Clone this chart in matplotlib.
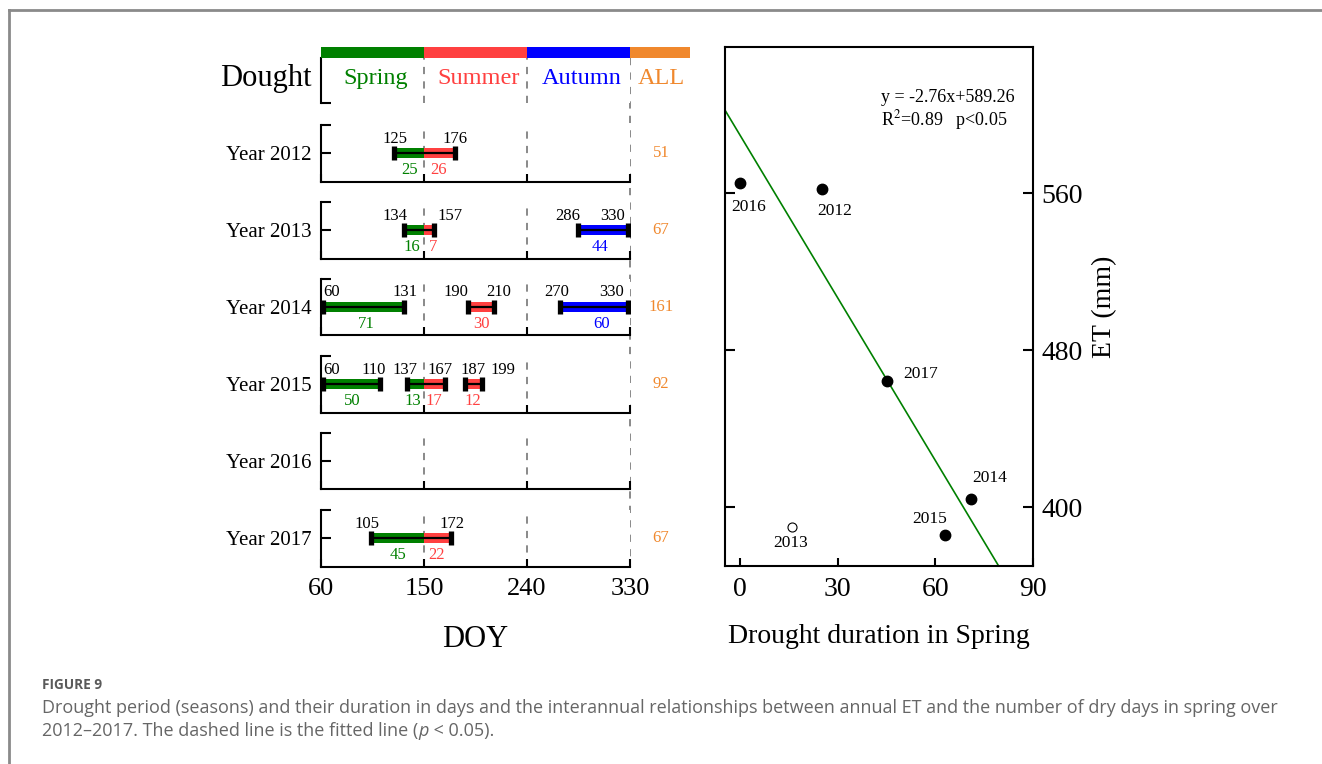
import matplotlib
matplotlib.use("Agg")
import matplotlib.pyplot as plt
from matplotlib.lines import Line2D
import numpy as np

plt.rcParams['font.family'] = ['Liberation Serif', 'DejaVu Serif']
plt.rcParams['mathtext.fontset'] = 'stix'

# ---------------- data ----------------
years = [2012, 2013, 2014, 2015, 2016, 2017]
seasons = ["Spring", "Summer", "Autumn", "ALL"]
season_bounds = [60, 150, 240, 330]
x_ticks_doy = [60, 150, 240, 330]

# continuous drought runs (start DOY, end DOY) per year
run_starts = {2012: [125], 2013: [134, 286], 2014: [60, 190, 270],
              2015: [60, 137, 187], 2016: [], 2017: [105]}
run_ends = {2012: [176], 2013: [157, 330], 2014: [131, 210, 330],
            2015: [110, 167, 199], 2016: [], 2017: [172]}

# seasonal segments: season, start, end, days label
seg_season = {2012: ["Spring", "Summer"], 2013: ["Spring", "Summer", "Autumn"],
              2014: ["Spring", "Summer", "Autumn"],
              2015: ["Spring", "Spring", "Summer", "Summer"], 2016: [],
              2017: ["Spring", "Summer"]}
seg_start = {2012: [125, 150], 2013: [134, 150, 286], 2014: [60, 190, 270],
             2015: [60, 137, 150, 187], 2016: [], 2017: [105, 150]}
seg_end = {2012: [150, 176], 2013: [150, 157, 330], 2014: [131, 210, 330],
           2015: [110, 150, 167, 199], 2016: [], 2017: [150, 172]}
seg_days = {2012: [25, 26], 2013: [16, 7, 44], 2014: [71, 30, 60],
            2015: [50, 13, 17, 12], 2016: [], 2017: [45, 22]}
all_days = [51, 67, 161, 92, None, 67]

# right panel: spring drought days vs annual ET
sc_years = ["2016", "2012", "2017", "2014", "2015", "2013"]
sc_spring_days = [0, 25, 45, 71, 63, 16]
sc_et = [565, 562, 464, 404, 386, 390]
sc_filled = [True, True, True, True, True, False]
fit_slope = -2.76
fit_intercept = 589.26

# ---------------- styles ----------------
colors = {"Spring": "#008000", "Summer": "#FF4040", "Autumn": "#0000FF", "ALL": "#F0882D"}
# label nudges in days (purely positional styling)
start_nudge = {2012: [0], 2013: [-9, -10], 2014: [9, -12, -4], 2015: [9, -4, 6], 2017: [-5]}
end_nudge = {2012: [1], 2013: [16, -15], 2014: [2, 5, -16], 2015: [-4, -3, 20], 2017: [2.5]}
days_nudge = {2012: [0, 0], 2013: [-3, 4, -4], 2014: [4, 0, 5], 2015: [2, -3, 0, 0], 2017: [0, 0]}
label_offsets = {"2016": (8, -24), "2012": (13, -22), "2017": (34, 7),
                 "2014": (18, 21), "2015": (-16, 16), "2013": (-2, -16)}

W, H = 1322, 764
fig = plt.figure(figsize=(W / 100, H / 100), dpi=100)


def px_axes(left, top, right, bottom):
    return fig.add_axes([left / W, 1 - bottom / H, (right - left) / W, (bottom - top) / H])


XL, XR = 321, 630
SPW = 1.5
DASH = (0, (4, 4))
GREY = '#808080'

# header panel
axh = px_axes(XL, 58, XR, 103)
axh.set_xlim(60, 330)
axh.set_ylim(0, 1)
for s in ["top", "right", "bottom"]:
    axh.spines[s].set_visible(False)
axh.spines["left"].set_linewidth(SPW)
axh.set_xticks([])
axh.set_yticks([0])
axh.set_yticklabels([])
axh.tick_params(axis='y', direction='in', length=7, width=SPW)
for xb in season_bounds[1:3]:
    axh.axvline(xb, color=GREY, ls=DASH, lw=1.3)
axh.text(-0.03, 0.55, "Dought", transform=axh.transAxes, ha='right', va='center', fontsize=22)
# coloured header band
axb = px_axes(XL, 47, 690, 58)
axb.set_xlim(60, 330 + (690 - XR) * 270 / (XR - XL))
axb.set_ylim(0, 1)
axb.axis('off')
band_edges = season_bounds + [axb.get_xlim()[1]]
for i, s in enumerate(seasons):
    axb.axvspan(band_edges[i], band_edges[i + 1], color=colors[s], lw=0)
for i, s in enumerate(seasons[:3]):
    axh.text((season_bounds[i] + season_bounds[i + 1]) / 2 + 3, 0.55, s, color=colors[s],
             ha='center', va='center', fontsize=17.5)
PXD = (XR - XL) / 270.0
axh.text(330 + 31 / PXD, 0.55, "ALL", color=colors["ALL"], ha='center', va='center',
         fontsize=17.5, clip_on=False)

tops = [125, 202, 278.5, 356, 433, 510]
PH = 56.5
for k, yr in enumerate(years):
    ax = px_axes(XL, tops[k], XR, tops[k] + PH)
    ax.set_xlim(60, 330)
    ax.set_ylim(0, 1)
    ax.spines["top"].set_visible(False)
    ax.spines["right"].set_visible(False)
    ax.spines["left"].set_linewidth(SPW)
    ax.spines["bottom"].set_linewidth(SPW)
    ax.set_yticks([0.5, 1.0])
    ax.set_yticklabels([f"Year {yr}", ""], fontsize=15)
    ax.tick_params(axis='y', direction='in', length=7, width=SPW, pad=7)
    ax.set_xticks(x_ticks_doy)
    ax.tick_params(axis='x', direction='in', length=6, width=SPW, pad=8)
    if k == len(years) - 1:
        ax.set_xticklabels([str(v) for v in x_ticks_doy], fontsize=19)
        ax.set_xlabel("DOY", fontsize=22, labelpad=18)
    else:
        ax.set_xticklabels([])
    for xb in season_bounds[1:3]:
        ax.axvline(xb, color=GREY, ls=DASH, lw=1.3, zorder=1)
    # segments
    for s, a, b, d, nd in zip(seg_season[yr], seg_start[yr], seg_end[yr], seg_days[yr],
                              days_nudge.get(yr, [])):
        ax.barh(0.5, b - a, left=a, height=0.17, color=colors[s], lw=0, zorder=2)
        ax.text((a + b) / 2 + nd, 0.2, str(d), color=colors[s], ha='center', va='center',
                fontsize=12, zorder=5)
    # runs
    for a, b, na, nb in zip(run_starts[yr], run_ends[yr], start_nudge.get(yr, []),
                            end_nudge.get(yr, [])):
        ax.plot([a, b], [0.5, 0.5], color='k', lw=1.6, zorder=3, solid_capstyle='butt')
        cap_x = [max(a - 1.5, 61.8), min(b + 1.5, 328.2)]
        ax.plot(cap_x, [0.5, 0.5], ls='none', marker='|', ms=9.5, mew=3.8,
                color='k', zorder=4)
        ax.text(a + na, 0.76, str(a), ha='center', va='center', fontsize=12, zorder=5)
        ax.text(b + nb, 0.76, str(b), ha='center', va='center', fontsize=12, zorder=5)
    if all_days[k] is not None:
        ax.text(330 + 31 / PXD, 0.5, str(all_days[k]), color=colors["ALL"], ha='center',
                va='center', fontsize=12, clip_on=False)

# long dashed line at 330 spanning all panels
fig.add_artist(Line2D([XR / W, XR / W], [1 - 58 / H, 1 - 566 / H], color=GREY,
                      ls=DASH, lw=1.3, zorder=0))

# ---------------- right panel ----------------
axr = px_axes(725, 47, 1033, 566)
axr.set_xlim(-4.7, 90)
axr.set_ylim(370, 634.4)
for s in axr.spines.values():
    s.set_linewidth(SPW)
xx = np.array(axr.get_xlim())
axr.plot(xx, fit_slope * xx + fit_intercept, color='#008000', lw=1.2, zorder=2)
for name, xv, yv, f in zip(sc_years, sc_spring_days, sc_et, sc_filled):
    if f:
        axr.plot(xv, yv, 'o', color='k', ms=7.5, zorder=3)
    else:
        axr.plot(xv, yv, 'o', mfc='white', mec='k', ms=6.5, mew=0.8, zorder=3)
    dx, dy = label_offsets[name]
    axr.annotate(name, (xv, yv), xytext=(dx, dy), textcoords='offset pixels',
                 ha='center', va='center', fontsize=12.5)
axr.set_xticks([0, 30, 60, 90])
axr.set_xticklabels(["0", "30", "60", "90"], fontsize=20)
axr.set_yticks([400, 480, 560])
axr.set_yticklabels(["400", "480", "560"], fontsize=20)
axr.yaxis.set_label_position('right')
axr.tick_params(axis='y', left=True, right=True, labelleft=False, labelright=True,
                direction='in', length=7.5, width=SPW, pad=6)
axr.tick_params(axis='x', direction='in', length=6, width=SPW, pad=8)
axr.set_xlabel("Drought duration in Spring", fontsize=20, labelpad=16)
axr.set_ylabel("ET (mm)", fontsize=20, labelpad=7)
axr.text(881 / W, 1 - 97 / H, f"y = {fit_slope}x+{fit_intercept}", transform=fig.transFigure,
         fontsize=13, va='center')
axr.text(881 / W, 1 - 120 / H, "R$^2$=0.89   p<0.05", transform=fig.transFigure,
         fontsize=13, va='center')

# ---------------- caption & frame ----------------
fig.add_artist(Line2D([9 / W, 1], [1 - 10 / H, 1 - 10 / H], color='#8a8a8a', lw=2))
fig.add_artist(Line2D([9 / W, 9 / W], [0, 1 - 10 / H], color='#8a8a8a', lw=2))
cap_font = dict(family='Open Sans', fontsize=13, color='#666666', va='center')
fig.text(42 / W, 1 - 685 / H, "FIGURE 9", family='Open Sans', weight='bold', fontsize=9.8,
         color='#5a5a5a', va='center')
fig.text(42 / W, 1 - 708 / H,
         "Drought period (seasons) and their duration in days and the interannual relationships "
         "between annual ET and the number of dry days in spring over", **cap_font)
t1 = fig.text(42 / W, 1 - 731 / H, "2012\u20132017. The dashed line is the fitted line (", **cap_font)
fig.canvas.draw()
r = fig.canvas.get_renderer()
x1 = t1.get_window_extent(r).x1
t2 = fig.text(x1 / W, 1 - 731 / H, "p", style='italic', **cap_font)
x2 = t2.get_window_extent(r).x1
fig.text(x2 / W, 1 - 731 / H, " < 0.05).", **cap_font)

fig.savefig("out.png", dpi=100)
